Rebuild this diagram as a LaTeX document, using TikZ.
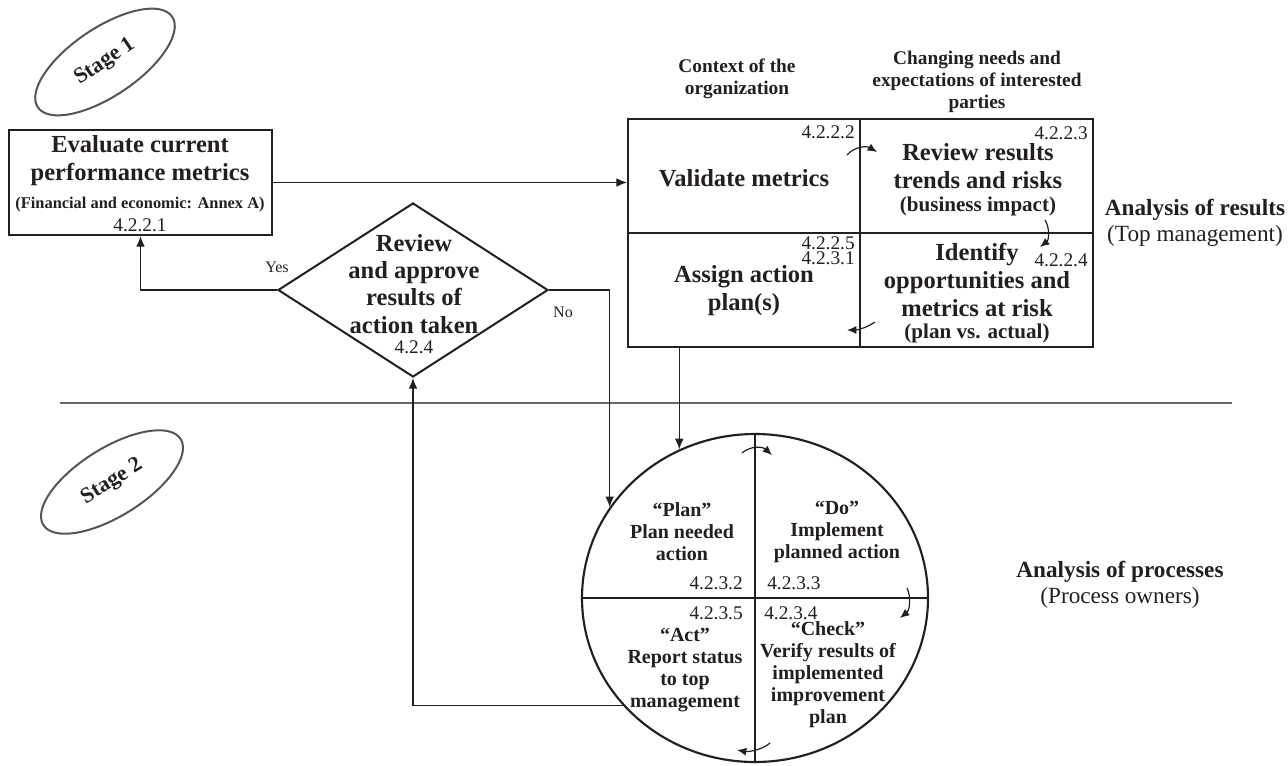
\documentclass[tikz,border=0pt]{standalone}
\usepackage{fontspec}
\setmainfont{Liberation Serif}
\usetikzlibrary{shapes.geometric,arrows.meta,calc}
\definecolor{ink}{HTML}{231F20}
\definecolor{stagegray}{HTML}{555555}
\definecolor{sepgray}{HTML}{666666}
\begin{document}
\begin{tikzpicture}[x=0.75pt,y=-0.75pt,
  txt/.style={text=ink, inner sep=0pt, align=center},
  big/.style={txt, font=\fontsize{18.4}{21}\selectfont\bfseries},
  dia/.style={txt, font=\fontsize{18.4}{20.3}\selectfont\bfseries},
  mid/.style={txt, font=\fontsize{15.8}{18}\selectfont\bfseries},
  fin/.style={txt, font=\fontsize{12.3}{14}\selectfont\bfseries},
  hdr/.style={txt, font=\fontsize{14.5}{16.5}\selectfont\bfseries},
  num/.style={txt, font=\fontsize{14.5}{11.5}\selectfont},
  circ/.style={txt, font=\fontsize{15}{16.5}\selectfont\bfseries},
  ana/.style={txt, font=\fontsize{17.4}{19.5}\selectfont},
  yn/.style={txt, font=\fontsize{12}{13}\selectfont},
  box/.style={draw=ink, line width=1.5pt, inner sep=0pt, rectangle},
  stageell/.style={draw=stagegray, line width=1.5pt, ellipse, inner sep=0pt,
     minimum width=162*0.75pt, minimum height=68*0.75pt, text=ink,
     font=\fontsize{16.5}{18}\selectfont\bfseries},
  arr/.style={draw=ink, line width=0.9pt, -{Latex[length=8pt,width=6.5pt]}},
  carr/.style={draw=ink, line width=0.9pt, -{Latex[length=7pt,width=6pt]}},
  thinline/.style={draw=ink, line width=1.1pt}
]
\useasboundingbox (0,0) rectangle (1288,765);

% stage ellipses
\node[stageell, rotate=34] (s1) at (105,62) {Stage 1};
\node[stageell, rotate=32] (s2) at (112,482) {Stage 2};

% separator
\coordinate (sepl) at (60,403);
\coordinate (sepr) at (1232,403);
\draw[draw=sepgray, line width=1.5pt] (sepl) -- (sepr);

% evaluate box
\node[box, minimum width=263*0.75pt, minimum height=105*0.75pt] (eval) at (140.5,182.5) {};
\node[big] (evt) at (140,161) {Evaluate current\\performance metrics};
\node[fin] (evf) at (140,205) {(Financial and economic: Annex A)};
\node[num] (evn) at (140,225) {4.2.2.1};

% grid
\node[box, minimum width=232*0.75pt, minimum height=114*0.75pt] (vm) at (744,176) {};
\node[box, minimum width=233*0.75pt, minimum height=114*0.75pt] (rr) at (976.5,176) {};
\node[box, minimum width=232*0.75pt, minimum height=114*0.75pt] (aa) at (744,290) {};
\node[box, minimum width=233*0.75pt, minimum height=114*0.75pt] (io) at (976.5,290) {};

\node[num, anchor=east] (n2222) at (855,132) {4.2.2.2};
\node[big] (vmt) at (744,178) {Validate metrics};
\node[num, anchor=east] (n2223) at (1088,133) {4.2.2.3};
\node[big] (rrt) at (978,166) {Review results\\trends and risks};
\node[mid] (rrs) at (978,206) {(business impact)};
\node[num, anchor=east] (n2224) at (1088,260) {4.2.2.4};
\node[big] (iot) at (977,280) {Identify\\opportunities and\\metrics at risk};
\node[mid] (ios) at (977,333) {(plan vs. actual)};
\node[num, anchor=east, align=right] (n2225) at (855,250.5) {4.2.2.5\\4.2.3.1};
\node[big] (aat) at (744,291) {Assign action\\plan(s)};

% headers
\node[hdr] (h1) at (737,79) {Context of the\\organization};
\node[hdr] (h2) at (977,82) {Changing needs and\\expectations of interested\\parties};
\node[ana] (ar) at (1195,223) {\textbf{Analysis of results}\\(Top management)};

% diamond
\node[draw=ink, line width=1.5pt, diamond, inner sep=0pt,
      minimum width=270*0.75pt, minimum height=174*0.75pt] (dia) at (413,290) {};
\node[dia] (diat) at (414,284) {Review\\and approve\\results of\\action taken};
\node[num] (n224) at (414,347) {4.2.4};
\node[yn] (yes) at (277,267) {Yes};
\node[yn] (no) at (563,312) {No};

% PDCA circle
\node[draw=ink, line width=1.6pt, ellipse, inner sep=0pt,
      minimum width=346*0.75pt, minimum height=328*0.75pt] (pdca) at (755,598) {};
\draw[thinline] (pdca.north) -- (pdca.south);
\draw[thinline] (pdca.west) -- (pdca.east);

\node[circ] (plan) at (682,532) {“Plan”\\Plan needed\\action};
\node[num, anchor=east] (n2232) at (743,583) {4.2.3.2};
\node[circ] (do) at (837,532) {“Do”\\Implement\\planned action};
\node[num, anchor=west] (n2233) at (767,583) {4.2.3.3};
\node[num, anchor=east] (n2235) at (743,613) {4.2.3.5};
\node[circ] (act) at (685,670.5) {“Act”\\Report status\\to top\\management};
\node[num, anchor=west] (n2234) at (764,613) {4.2.3.4};
\node[circ] (chk) at (828,675) {“Check”\\Verify results of\\implemented\\improvement\\plan};

\node[ana] (ap) at (1120,585) {\textbf{Analysis of processes}\\(Process owners)};

% connectors
\draw[arr] (eval.east) -- (eval.east -| vm.west);
\draw[arr] (pdca.117.5 |- aa.south) -- (pdca.117.5);
\draw[arr] (dia.west) -| (eval.south);
\draw[arr] (dia.east) -| (pdca.148.8);
\draw[arr] (pdca.219.1) -| (dia.south);

% curved cycle arrows
\coordinate (c1s) at (847,155); \coordinate (c1e) at (877,152);
\draw[carr] (c1s) .. controls (855,146) and (867,146) .. (c1e);
\coordinate (c2s) at (1045,220); \coordinate (c2e) at (1040,247);
\draw[carr] (c2s) .. controls (1050,228) and (1049,240) .. (c2e);
\coordinate (c3s) at (875,322); \coordinate (c3e) at (847,330);
\draw[carr] (c3s) .. controls (868,327) and (858,330) .. (c3e);
\coordinate (c4s) at (742,453); \coordinate (c4e) at (772,455);
\draw[carr] (c4s) .. controls (750,446) and (762,446) .. (c4e);
\coordinate (c5s) at (907,588); \coordinate (c5e) at (900,618);
\draw[carr] (c5s) .. controls (911,596) and (910,610) .. (c5e);
\coordinate (c6s) at (770,743); \coordinate (c6e) at (737,750);
\draw[carr] (c6s) .. controls (762,750) and (748,752) .. (c6e);
\end{tikzpicture}
\end{document}
